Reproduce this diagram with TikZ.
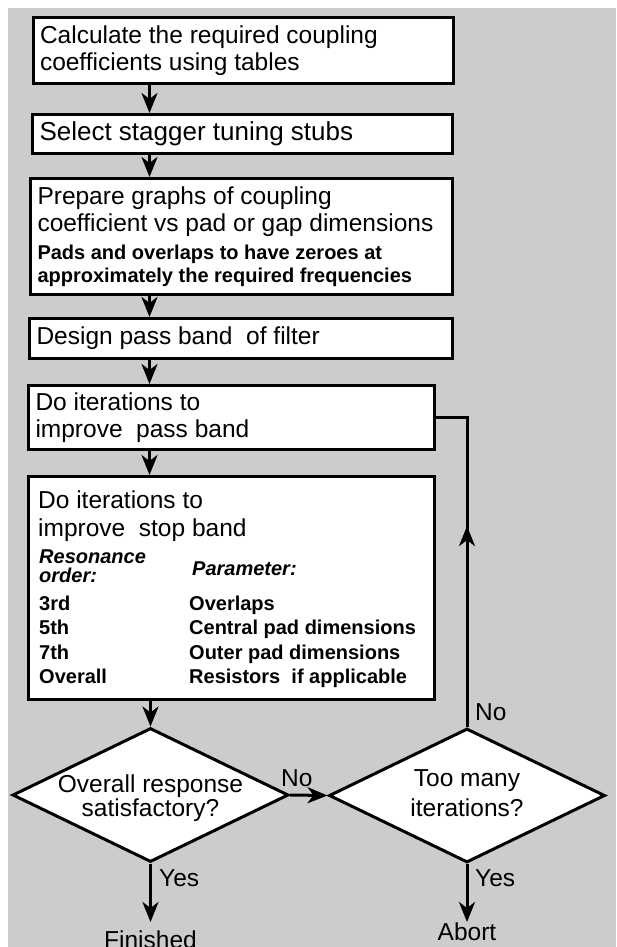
\documentclass[tikz,border=0pt]{standalone}
\usepackage{fontspec}
\setmainfont{Liberation Sans}
\usepackage{xcolor}
\usepackage{tikz}
\usetikzlibrary{arrows.meta,positioning,calc,shapes.geometric,decorations.markings}
\definecolor{panelgrey}{RGB}{204,204,204}
\newcommand{\bigtxt}{\fontsize{24.5}{27.5}\selectfont}
\newcommand{\smalltxt}{\fontsize{20}{23}\selectfont\bfseries}

\tikzset{
  procbox/.style={draw, line width=3pt, fill=white, anchor=north west, align=flush left,
    inner xsep=7pt, inner ysep=0pt, font=\bigtxt},
  decbox/.style={draw, diamond, line width=3pt, fill=white, inner sep=0pt,
    minimum width=276pt, minimum height=134pt},
  flow/.style={line width=3pt, -{Stealth[length=20pt,width=16pt,inset=6pt]}},
  loopline/.style={line width=3pt, postaction={decorate},
    decoration={markings, mark=at position 0.59 with {\arrow{Stealth[length=20pt,width=16pt,inset=6pt]}}}},
  lbl/.style={font=\bigtxt, inner sep=0pt},
  tabtxt/.style={font=\smalltxt, inner sep=0pt, anchor=base west},
}

\begin{document}
\begin{tikzpicture}[x=1pt,y=-1pt]
      \useasboundingbox (0,0) rectangle (616,947);
      \fill[white] (0,0) rectangle (616,947);
      \fill[panelgrey] (8,8) rectangle (616,947);
      \coordinate (spine) at (149.5,0);

      \node[procbox, text width=406.5pt, minimum height=65.5pt] (calc) at (31.5,16.5)
        {Calculate the required coupling\\ coefficients using tables};
      \node[procbox, text width=406pt, minimum height=39pt, font=\fontsize{26}{29}\selectfont] (sel) at (31,113)
        {Select stagger tuning stubs};
      \node[procbox, text width=408pt, minimum height=116pt] (graphs) at (29,177)
        {Prepare graphs of coupling\\coefficient vs pad or gap dimensions\\[5pt]
         \smalltxt Pads and overlaps to have zeroes at\\[-5pt]approximately the required frequencies};
      \node[procbox, text width=409pt, minimum height=40pt] (design) at (28,317)
        {Design pass band\ \ of filter};
      \node[procbox, text width=392pt, minimum height=64pt] (pass) at (27,384)
        {Do iterations to\\improve\ \ pass band};
      \node[procbox, text width=392pt, minimum height=223pt] (stop) at (27,475) {};

      \node[lbl, align=flush left, anchor=north west] (stoptxt) at (38,491)
        {Do iterations to\\improve\ \ stop band};
      \node[inner sep=0pt, align=flush left, anchor=north west,
        font=\fontsize{20}{19}\selectfont\bfseries\itshape] (reso) at (39,550)
        {Resonance\\order:};
      \node[tabtxt, font=\smalltxt\itshape] (parm) at (192,575) {Parameter:};
      \foreach \ordr/\prm [count=\i] in {3rd/Overlaps, 5th/Central pad dimensions,
          7th/Outer pad dimensions, Overall/Resistors\ \ if applicable} {
        \node[tabtxt] (ord\i) at (39,585.5+24.5*\i) {\ordr};
        \node[tabtxt] (prm\i) at (189,585.5+24.5*\i) {\prm};
      }

      \node[decbox] (dec1) at (150.5,795) {};
      \node[lbl, align=center] (dec1txt) at ($(dec1.center)+(0,3)$) {Overall response\\[-4pt]satisfactory?};
      \node[decbox] (dec2) at (467,795.5) {};
      \node[lbl, align=center] (dec2txt) at ($(dec2.center)+(0,-2.5)$) {Too many\\[2pt]iterations?};

      \node[lbl, anchor=north] (fin) at (150.5,931) {Finished};
      \node[lbl, anchor=north] (abort) at (467,923) {Abort};

      \draw[flow] (spine |- calc.south) -- (spine |- sel.north);
      \draw[flow] (spine |- sel.south) -- (spine |- graphs.north);
      \draw[flow] (spine |- graphs.south) -- (spine |- design.north);
      \draw[flow] (spine |- design.south) -- (spine |- pass.north);
      \draw[flow] (spine |- pass.south) -- (spine |- stop.north);
      \draw[flow] (dec1.north |- stop.south) -- (dec1.north);
      \draw[flow] (dec1.east) -- (dec2.west);
      \draw[loopline] (dec2.north) |- (pass.east);
      \draw[flow, shorten >=9pt] (dec1.south) -- (fin.north);
      \draw[flow, shorten >=1pt] (dec2.south) -- (abort.north);

      \node[lbl, anchor=base west] (no1) at (281,786) {No};
      \node[lbl, anchor=base west] (no2) at (475,720) {No};
      \node[lbl, anchor=base west] (yes1) at (159,886) {Yes};
      \node[lbl, anchor=base west] (yes2) at (475,886) {Yes};
\end{tikzpicture}
\end{document}
